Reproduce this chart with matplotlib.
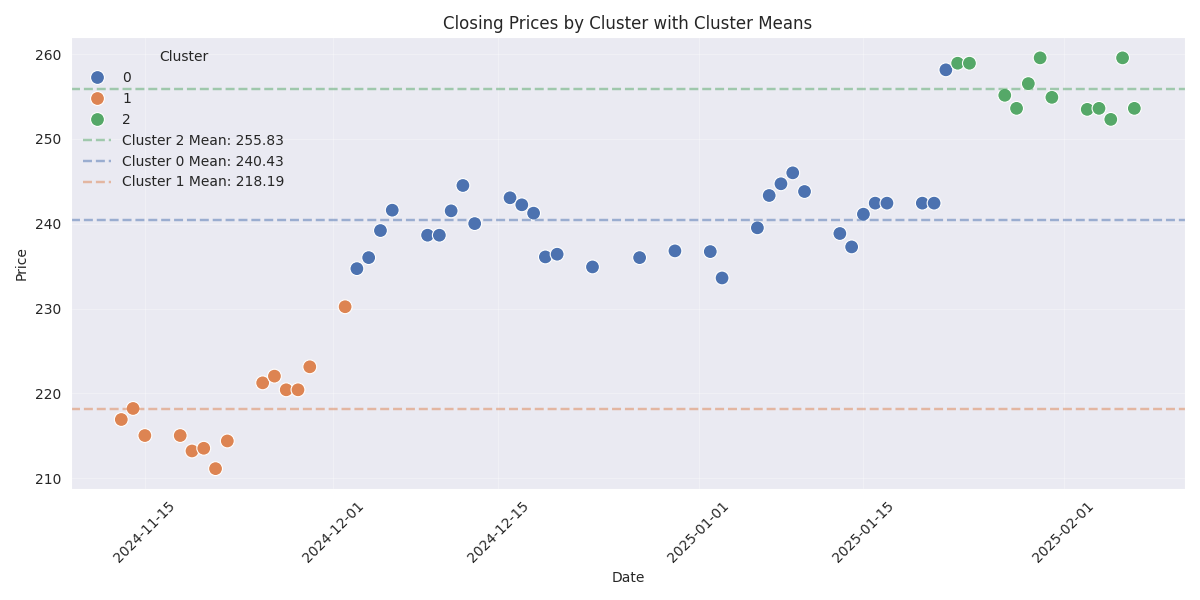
import pandas as pd
import matplotlib
matplotlib.use("Agg")
import matplotlib.pyplot as plt
import seaborn as sns

# closing prices, grouped by cluster
dates_c1 = ["2024-11-13", "2024-11-14", "2024-11-15", "2024-11-18", "2024-11-19",
            "2024-11-20", "2024-11-21", "2024-11-22", "2024-11-25", "2024-11-26",
            "2024-11-27", "2024-11-28", "2024-11-29", "2024-12-02"]
close_c1 = [216.93, 218.23, 215.04, 215.04, 213.22, 213.54, 211.14, 214.40,
            221.25, 222.04, 220.43, 220.43, 223.14, 230.22]

dates_c0 = ["2024-12-03", "2024-12-04", "2024-12-05", "2024-12-06", "2024-12-09",
            "2024-12-10", "2024-12-11", "2024-12-12", "2024-12-13", "2024-12-16",
            "2024-12-17", "2024-12-18", "2024-12-19", "2024-12-20", "2024-12-23",
            "2024-12-27", "2024-12-30", "2025-01-02", "2025-01-03", "2025-01-06",
            "2025-01-07", "2025-01-08", "2025-01-09", "2025-01-10", "2025-01-13",
            "2025-01-14", "2025-01-15", "2025-01-16", "2025-01-17", "2025-01-20",
            "2025-01-21", "2025-01-22"]
close_c0 = [234.71, 236.01, 239.20, 241.60, 238.65, 238.65, 241.52, 244.51, 240.02,
            243.06, 242.23, 241.25, 236.09, 236.41, 234.91, 236.01, 236.80, 236.72,
            233.61, 239.52, 243.33, 244.71, 246.00, 243.80, 238.85, 237.27, 241.13,
            242.43, 242.43, 242.43, 242.43, 258.14]

dates_c2 = ["2025-01-23", "2025-01-24", "2025-01-27", "2025-01-28", "2025-01-29",
            "2025-01-30", "2025-01-31", "2025-02-03", "2025-02-04", "2025-02-05",
            "2025-02-06", "2025-02-07"]
close_c2 = [258.92, 258.92, 255.14, 253.60, 256.52, 259.55, 254.90, 253.48,
            253.60, 252.30, 259.55, 253.60]

# cluster means as printed in the legend
mean_clusters = ["2", "0", "1"]
mean_values = [255.83, 240.43, 218.19]

df = pd.concat([
    pd.DataFrame({"Date": dates_c1, "Close": close_c1, "Cluster": "1"}),
    pd.DataFrame({"Date": dates_c0, "Close": close_c0, "Cluster": "0"}),
    pd.DataFrame({"Date": dates_c2, "Close": close_c2, "Cluster": "2"}),
])
df["Date"] = pd.to_datetime(df["Date"])
df = df.sort_values("Date")

sns.set_style("darkgrid")
plt.rcParams["font.family"] = ["DejaVu Sans"]
palette = sns.color_palette("deep")

fig, ax = plt.subplots(figsize=(12, 6), dpi=100)
sns.scatterplot(data=df, x="Date", y="Close", hue="Cluster", hue_order=["0", "1", "2"],
                palette=palette[:3], s=100, ax=ax)

for c, m in zip(mean_clusters, mean_values):
    ax.axhline(m, color=palette[int(c)], linestyle="--", linewidth=1.75, alpha=0.5,
               label=f"Cluster {c} Mean: {m:.2f}")

ax.set_title("Closing Prices by Cluster with Cluster Means")
ax.set_xlabel("Date")
ax.set_ylabel("Price")
ax.legend(title="Cluster", loc="upper left", frameon=False)
ax.grid(True, alpha=0.3)
plt.xticks(rotation=45)
plt.tight_layout()
plt.savefig("out.png")
